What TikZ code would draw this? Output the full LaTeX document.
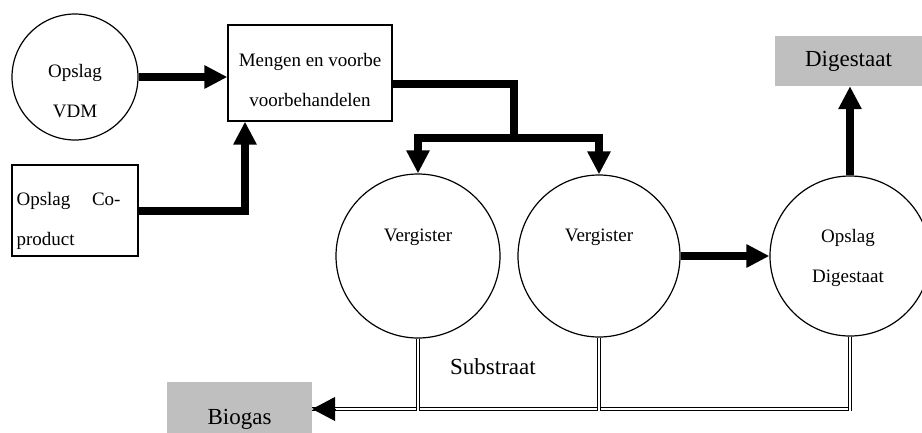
\documentclass[tikz,border=0pt]{standalone}
\usepackage{fontspec}
\setmainfont{Liberation Serif}
\usetikzlibrary{arrows.meta}

\definecolor{prodgray}{HTML}{BFBFBF}

\begin{document}
\begin{tikzpicture}[x = 1pt, y = -1pt, > = {Triangle[length = 23pt, width = 22pt]}]

	% Styles
	
	\tikzset{
		tank/.style = {draw, circle, line width = 1.2pt, inner sep = 0pt},
		box/.style = {draw, rectangle, line width = 1.2pt, inner sep = 0pt},
		product/.style = {fill = prodgray, inner sep = 0pt, font = \fontsize{23}{26}\selectfont},
		small/.style = {align = center, font = \fontsize{19}{40}\selectfont},
		large/.style = {font = \fontsize{23}{26}\selectfont},
		flow/.style = {line width = 8pt},
		gas/.style = {double, double distance = 2pt, line width = 1.2pt}
	}
	
	\clip (0, 0) rectangle (922, 432);
	
	% Storage and treatment
	
	\node [tank, minimum size = 126pt] (vdm) at (75, 77) {};
	\node [box, minimum width = 126pt, minimum height = 91pt] (coprod) at (75, 210.5) {};
	\node [box, minimum width = 164pt, minimum height = 96pt] (mengen) at (310, 73) {};
	
	\node [small] (vdmtext) at (75, 91) {Opslag\\VDM};
	\node [small, text width = 104pt, align = left, anchor = west] (coprodtext) at (13, 221) {Opslag\hfill Co-\\product};
	\node [small] (mengentext) at (310, 80) {Mengen en voorbe\\voorbehandelen};
	
	% Digesters and digestate storage
	
	\node [tank, minimum size = 164pt] (verg1) at (418, 256) {};
	\node [tank, minimum size = 162pt] (verg2) at (599, 256) {};
	\node [tank, minimum size = 160pt] (opdig) at (850, 256) {};
	
	\node [small] (verg1text) at (418, 237) {Vergister};
	\node [small] (verg2text) at (599, 237) {Vergister};
	\node [small] (opdigtext) at (848, 258) {Opslag\\Digestaat};
	
	% Products
	
	\node [product, minimum width = 147pt, minimum height = 50pt] (digestaat) at (848.5, 61) {Digestaat};
	\node [product, minimum width = 145pt, minimum height = 74pt] (biogas) at (239.5, 419) {Biogas};
	\node [large] (substraat) at (493, 367) {Substraat};
	
	% Feed lines
	
	\coordinate (split) at (514, 138);
	
	\draw [flow, ->] (vdm.east) -- (vdm.east -| mengen.west);
	\draw [flow, ->] (coprod.east) -| ([xshift = -65pt] mengen.south);
	\draw [flow] ([yshift = -11pt] mengen.east) -| ([yshift = -4pt] split);
	\draw [flow, ->] (split) -| (verg1.north);
	\draw [flow, ->] (split) -| (verg2.north);
	\draw [flow, ->] (verg2.east) -- (opdig.west);
	\draw [flow, ->] (opdig.north) -- (opdig.north |- digestaat.south);
	
	% Gas lines
	
	\coordinate (gasend) at (852, 409);
	\coordinate (gasbottom) at (852, 411);
	
	\draw [gas] (gasend) -- (biogas.east |- gasend) coordinate (gastip);
	\foreach \tank in {verg1, verg2, opdig}
		\draw [gas] (\tank.south) -- (\tank.south |- gasbottom);
	\draw [line width = 1pt, -{Triangle[length = 23pt, width = 24pt]}] ([xshift = 23pt] gastip) -- (gastip);

\end{tikzpicture}
\end{document}
